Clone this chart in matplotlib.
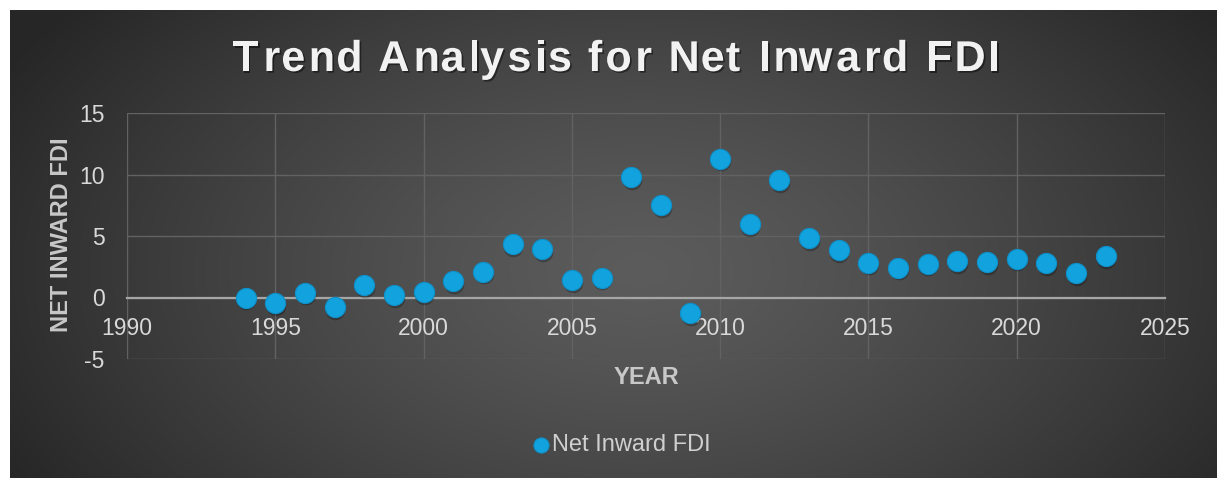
import numpy as np
import matplotlib.pyplot as plt
import matplotlib.patheffects as pe
from matplotlib import transforms, font_manager
from matplotlib.ft2font import FT2Font

plt.rcParams['font.family'] = ['Liberation Sans', 'DejaVu Sans']
plt.rcParams['axes.unicode_minus'] = False

years = list(range(1994, 2024))
fdi = [0.0, -0.45, 0.4, -0.78, 1.0, 0.22, 0.46, 1.35, 2.1, 4.33,
       3.95, 1.43, 1.62, 9.76, 7.5, -1.27, 11.3, 5.98, 9.54, 4.82,
       3.87, 2.84, 2.43, 2.76, 2.98, 2.87, 3.16, 2.81, 1.98, 3.38]
x_ticks = [1990, 1995, 2000, 2005, 2010, 2015, 2020, 2025]
y_ticks = [-5, 0, 5, 10, 15]
title = "Trend Analysis for Net Inward FDI"

W, H = 1217, 478
fig = plt.figure(figsize=(W / 100, H / 100), dpi=100, facecolor='white')

# dark radial background (white strip on left/top like the source)
bg = fig.add_axes([10 / W, 0, 1 - 10 / W, 1 - 10 / H], zorder=-5)
yy, xx = np.mgrid[10:H, 10:W]
d = np.sqrt(((xx - 640) / 720.0) ** 2 + ((yy - 270) / 430.0) ** 2)
light = 0.36 - 0.21 * np.clip(d, 0, 1) ** 1.3
bg.imshow(np.dstack([light] * 3), aspect='auto', interpolation='bilinear')
bg.axis('off')

ax = fig.add_axes([127 / W, 1 - 359 / H, (1165 - 127) / W, (359 - 113) / H])
ax.set_facecolor('none')

# soft shadow under each marker, then the marker
shadow = transforms.offset_copy(ax.transData, fig=fig, x=0.5, y=-2, units='points')
ax.scatter(years, fdi, s=200, color='black', alpha=0.25, linewidths=0,
           transform=shadow, zorder=3)
pts = ax.scatter(years, fdi, s=210, color='#12a2dd', edgecolors='#0d90c9',
                 linewidths=0.8, zorder=4, label='Net Inward FDI')

ax.set_xlim(1990, 2025)
ax.set_ylim(-5, 15)
ax.set_xticks(x_ticks)
ax.set_yticks(y_ticks)
ax.grid(True, color='#626262', linewidth=1)
ax.set_axisbelow(True)
for s in ['top', 'right', 'left']:
    ax.spines[s].set_visible(False)
ax.spines['bottom'].set_position(('data', 0))
ax.spines['bottom'].set_color('#a6a6a6')
ax.spines['bottom'].set_linewidth(1.6)
ax.tick_params(axis='x', length=0, pad=14, labelsize=16.5, labelcolor='#d9d9d9')
ax.tick_params(axis='y', length=0, pad=16, labelsize=16.5, labelcolor='#d9d9d9')

fig.text(62 / W, 1 - 235 / H, 'NET INWARD FDI', rotation=90, ha='center',
         va='center', fontsize=17, fontweight='bold', color='#c8c8c8')
fig.text(646 / W, 1 - 378 / H, 'YEAR', ha='center', va='center',
         fontsize=17, fontweight='bold', color='#c8c8c8')

# title with letter spacing, placed glyph by glyph
tsize = 31
fp = font_manager.FontProperties(family='Liberation Sans', weight='bold', size=tsize)
ft = FT2Font(font_manager.findfont(fp))
ft.set_size(tsize, 100)
glyphs = [ft.load_char(ord(c)) for c in title]
adv = [g.linearHoriAdvance / 65536 for g in glyphs]
left, right = 232, 997
gap = (right - left - sum(adv)) / (len(title) - 1)
x = left
shadow_fx = [pe.withSimplePatchShadow(offset=(1.2, -1.2), shadow_rgbFace='black', alpha=0.45)]
for c, g, a in zip(title, glyphs, adv):
    if c != ' ':
        fig.text((x + g.horiBearingX / 64) / W, 1 - 71 / H, c, ha='left', va='baseline',
                 fontproperties=fp, color='#f2f2f2', path_effects=shadow_fx)
    x += a + gap

leg = fig.legend(handles=[pts], loc='center', bbox_to_anchor=(621 / W, 1 - 445 / H),
                 frameon=False, fontsize=17, markerscale=0.75, handletextpad=0.05,
                 handlelength=0.8, labelcolor='#d0d0d0')

fig.savefig('out.png', dpi=100, facecolor='white')
